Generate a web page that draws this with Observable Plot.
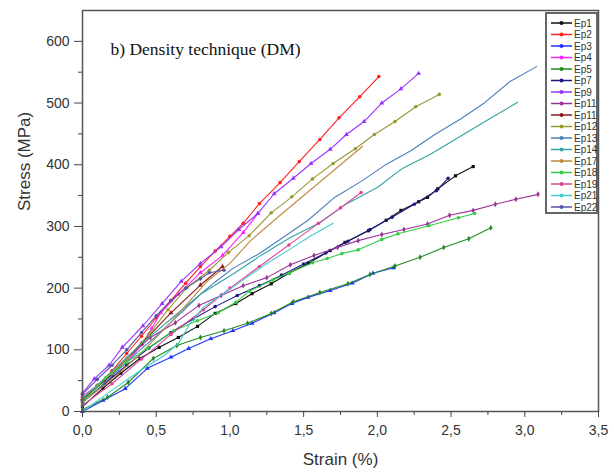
<!DOCTYPE html>
<html><head><meta charset="utf-8">
<script src="https://cdn.jsdelivr.net/npm/d3@7"></script>
<script src="https://cdn.jsdelivr.net/npm/@observablehq/plot@0.6"></script>
<style>
body{margin:0;background:#fff;}
#wrap{position:relative;width:614px;height:475px;}
#legend{position:absolute;left:545px;top:12px;}
</style></head><body>
<div id="wrap"><div id="legend"></div></div>
<script>
// ---- data: [strain %, stress MPa] ----
const ep1  = [[0,8],[0.14,38],[0.26,62],[0.39,86],[0.52,104],[0.65,120],[0.78,138],[0.90,159],[1.04,175],[1.15,191],[1.28,207],[1.40,224],[1.53,240],[1.68,261],[1.78,274],[1.94,293],[2.06,310],[2.16,326],[2.28,340],[2.34,347],[2.41,361],[2.53,382],[2.65,397]];
const ep2  = [[0,20],[0.1,42],[0.2,66],[0.3,94],[0.4,122],[0.5,152],[0.6,180],[0.7,208],[0.8,235],[0.9,260],[1.0,284],[1.09,305],[1.20,337],[1.34,371],[1.47,405],[1.61,441],[1.74,476],[1.88,510],[2.01,543]];
const ep3  = [[0,0],[0.14,18],[0.29,37],[0.44,70],[0.60,88],[0.72,102],[0.87,118],[1.02,131],[1.15,143],[1.30,160],[1.42,175],[1.53,185],[1.68,196],[1.83,208],[1.97,224],[2.11,233]];
const ep4  = [[0,25],[0.1,42],[0.2,58],[0.3,80],[0.4,108],[0.47,135],[0.53,160],[0.65,190],[0.80,225],[0.95,253],[1.09,290],[1.19,321]];
const ep5  = [[0,3],[0.17,23],[0.31,47],[0.48,86],[0.64,107],[0.80,120],[0.96,131],[1.12,143],[1.28,159],[1.43,178],[1.61,193],[1.80,207],[1.95,222],[2.12,236],[2.29,250],[2.45,266],[2.62,280],[2.77,298]];
const ep7  = [[0,15],[0.15,45],[0.30,75],[0.45,103],[0.60,128],[0.75,150],[0.90,170],[1.05,188],[1.20,204],[1.35,221],[1.50,239],[1.65,257],[1.80,276],[1.95,295],[2.10,315],[2.25,336],[2.40,358],[2.48,378]];
const ep9  = [[0,30],[0.08,53],[0.18,75],[0.27,104],[0.41,139],[0.54,175],[0.67,211],[0.80,240],[0.94,267],[1.06,295],[1.19,321],[1.30,353],[1.43,378],[1.55,402],[1.68,425],[1.79,449],[1.91,470],[2.03,500],[2.16,523],[2.28,548]];
const ep11 = [[0,18],[0.15,50],[0.30,85],[0.46,120],[0.63,144],[0.79,172],[0.94,188],[1.09,204],[1.25,217],[1.41,238],[1.57,253],[1.73,266],[1.87,277],[2.03,287],[2.18,295],[2.34,304],[2.49,318],[2.65,326],[2.80,336],[2.94,344],[3.09,352]];
const ep11b= [[0,20],[0.2,60],[0.4,110],[0.6,160],[0.8,205],[0.95,235]];
const ep12 = [[0,22],[0.1,42],[0.2,62],[0.3,85],[0.45,125],[0.58,165],[0.71,201],[0.86,229],[0.99,258],[1.13,285],[1.28,322],[1.42,348],[1.56,377],[1.70,402],[1.85,426],[1.98,449],[2.12,470],[2.26,494],[2.42,514]];
const ep13 = [[0,15],[0.1,35],[0.2,58],[0.3,80],[0.4,102],[0.5,122],[0.6,145],[0.7,167],[0.8,190],[0.9,210],[1.02,232],[1.20,256],[1.36,282],[1.53,310],[1.71,347],[1.89,373],[2.05,399],[2.23,423],[2.39,449],[2.57,475],[2.73,501],[2.90,535],[3.08,559]];
const ep14 = [[0,20],[0.2,65],[0.4,110],[0.6,150],[0.8,190],[1.03,224],[1.21,253],[1.41,282],[1.61,306],[1.78,335],[2.00,363],[2.17,394],[2.36,417],[2.55,444],[2.75,473],[2.95,501]];
const ep17 = [[0,15],[0.2,52],[0.4,95],[0.6,145],[0.85,212],[1.0,240],[1.14,277],[1.3,310],[1.45,340],[1.6,370],[1.75,400],[1.9,430]];
const ep18 = [[0,15],[0.16,55],[0.30,80],[0.44,102],[0.62,131],[0.78,147],[0.92,160],[1.04,177],[1.13,195],[1.29,213],[1.40,224],[1.56,241],[1.66,248],[1.76,256],[1.87,262],[2.03,279],[2.14,288],[2.35,301],[2.55,314],[2.66,321]];
const ep19 = [[0,10],[0.2,45],[0.4,85],[0.6,125],[0.82,165],[1.0,200],[1.2,235],[1.4,270],[1.6,305],[1.75,330],[1.89,355]];
const ep21 = [[0,0],[0.18,31],[0.39,66],[0.55,90],[0.65,110],[0.73,143],[0.82,169],[0.95,190],[1.10,215],[1.25,240],[1.40,262],[1.55,285],[1.70,305]];
const ep22 = [[0,28],[0.1,52],[0.2,75],[0.3,100],[0.4,128],[0.5,155],[0.6,180],[0.7,200],[0.8,215],[0.86,225],[0.96,229]];

const names  = ["Ep1","Ep2","Ep3","Ep4","Ep5","Ep7","Ep9","Ep11","Ep11","Ep12","Ep13","Ep14","Ep17","Ep18","Ep19","Ep21","Ep22"];
const series = [ep1,ep2,ep3,ep4,ep5,ep7,ep9,ep11,ep11b,ep12,ep13,ep14,ep17,ep18,ep19,ep21,ep22];
const colors = ["#111111","#ff2020","#2233ff","#ff22ff","#228b22","#1a1a80","#9933ff","#993399","#8b1a1a","#999933","#4a7ebb","#33a3a3","#c08a40","#33cc44","#dd4499","#44cccc","#5555aa"];
const symbols= ["square","circle","triangle","triangle","diamond","circle","triangle","diamond","triangle","circle","plus","plus","plus","circle","circle","plus","circle"];

const xTicks = [0,0.5,1,1.5,2,2.5,3,3.5];
const xMinor = [0.25,0.75,1.25,1.75,2.25,2.75,3.25];
const yTicks = [0,100,200,300,400,500,600];
const yMinor = [50,150,250,350,450,550];

const fmt = d => d.toFixed(1).replace(".", ",");
const marks = [];
series.forEach((s, i) => {
  const d = s.map(([x,y]) => ({x,y}));
  marks.push(Plot.line(d, {x:"x", y:"y", stroke: colors[i], strokeWidth: 1.1}));
  marks.push(Plot.dot(d, {x:"x", y:"y", fill: colors[i], stroke:"none", r: 1.8, symbol: symbols[i]}));
});

const axisFont = "Liberation Sans, Arial, sans-serif";
const chart = Plot.plot({
  width: 614, height: 475,
  marginLeft: 82, marginRight: 16, marginTop: 10, marginBottom: 64,
  style: {fontFamily: axisFont, fontSize: "14px", color: "#333", background: "#fff"},
  x: {domain: [0, 3.5]},
  y: {domain: [0, 650]},
  marks: [
    ...marks,
    Plot.frame({stroke: "#555", strokeWidth: 1.5}),
    Plot.axisX({ticks: xTicks, tickSize: 6, tickPadding: 8, tickFormat: fmt, label: null, fontSize: 14, stroke:"#444"}),
    Plot.axisX({ticks: xMinor, tickSize: 4, tickFormat: () => "", label: null, stroke:"#444"}),
    Plot.axisY({ticks: yTicks, tickSize: 8, tickPadding: 5, tickFormat: d => String(d), label: null, fontSize: 14, stroke:"#444"}),
    Plot.axisY({ticks: yMinor, tickSize: 4, tickFormat: () => "", label: null, stroke:"#444"}),
    Plot.text(["Strain (%)"], {frameAnchor: "bottom", dy: 53, fontSize: 17, fill: "#333", text: d => d}),
    Plot.text(["Stress (MPa)"], {frameAnchor: "left", dx: -58, rotate: -90, fontSize: 17, fill: "#333", text: d => d}),
    Plot.text(["b) Density technique (DM)"], {frameAnchor: "top-left", dx: 28, dy: 32, textAnchor: "start", fontFamily: "Liberation Serif, Times New Roman, serif", fontSize: 17.5, fill: "#111", text: d => d})
  ]
});
document.getElementById("wrap").insertBefore(chart, document.getElementById("legend"));

// legend
const lw = 52, lh = 201, step = 11.5;
const lg = d3.select("#legend").append("svg").attr("width", lw + 2).attr("height", lh + 2);
lg.append("rect").attr("x", 1).attr("y", 1).attr("width", lw - 1).attr("height", lh - 1)
  .attr("fill", "#fff").attr("stroke", "#666").attr("stroke-width", 2);
names.forEach((n, i) => {
  const y = 11 + i * step;
  lg.append("line").attr("x1", 6).attr("x2", 27).attr("y1", y).attr("y2", y)
    .attr("stroke", colors[i]).attr("stroke-width", 1.5);
  lg.append("circle").attr("cx", 16.5).attr("cy", y).attr("r", 2).attr("fill", colors[i]);
  lg.append("text").attr("x", 29).attr("y", y + 3.5).text(n)
    .attr("font-family", axisFont).attr("font-size", 10).attr("fill", "#333");
});
</script>
</body></html>
